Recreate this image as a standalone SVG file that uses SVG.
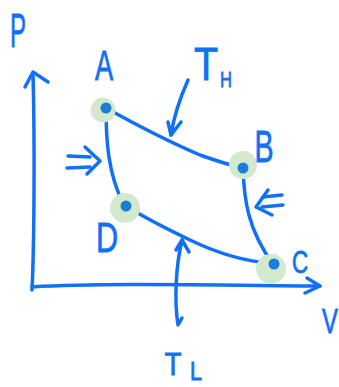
<svg xmlns="http://www.w3.org/2000/svg" width="339" height="387" viewBox="0 0 339 387">
<style>
.s{fill:none;stroke:#1170f5;stroke-width:3.5;stroke-linecap:round;stroke-linejoin:round}
.halo{fill:#d3e9cd}
.dot{fill:#1b7ed6}
.t{font-family:"Liberation Sans","DejaVu Sans",sans-serif;fill:#1170f5;stroke:#1170f5;stroke-width:0.8;text-anchor:middle}
</style>
<rect width="339" height="387" fill="#ffffff"/>
<g id="axes">
<path class="s" d="M32,290 C34,250 35,150 33,73"/>
<path class="s" d="M25,87 L33,72 L48,82"/>
<path class="s" d="M32,287 C100,283 200,285 320,286"/>
<path class="s" d="M307,278 L320,286 L305,293"/>
<text class="t" transform="translate(18,47) scale(0.5,1)" font-size="48">P</text>
<text class="t" transform="translate(330,333) scale(0.68,1)" font-size="35">V</text>
</g>
<g id="connectors">
<path class="s" d="M106,108 Q160,138 200,155 Q225,164 243,168"/>
<path class="s" d="M243,168 C244,200 248,230 273,264"/>
<path class="s" d="M273,263 C245,262 215,252 190,240 S145,218 126,206"/>
<path class="s" d="M106,108 C106,140 108,175 124,205"/>
</g>
<g id="node-A">
<circle class="halo" cx="103" cy="110" r="12.5"/>
<circle class="dot" cx="106" cy="108" r="5.5"/>
<text class="t" transform="translate(104,80) scale(0.65,1)" font-size="42">A</text>
</g>
<g id="node-B">
<circle class="halo" cx="243" cy="165" r="14"/>
<circle class="dot" cx="243" cy="168" r="5.5"/>
<text class="t" transform="translate(264,162) scale(0.65,1)" font-size="44">B</text>
</g>
<g id="node-C">
<circle class="halo" cx="271" cy="269" r="15"/>
<circle class="dot" cx="274" cy="264" r="5.5"/>
<text class="t" transform="translate(300,273) scale(0.7,1)" font-size="32">C</text>
</g>
<g id="node-D">
<circle class="halo" cx="125" cy="208" r="15"/>
<circle class="dot" cx="126" cy="206" r="5.5"/>
<text class="t" transform="translate(107,252) scale(0.73,1)" font-size="42">D</text>
</g>
<g id="label-TH">
<path class="s" d="M188,80 C180,98 174,115 171,135"/>
<path class="s" d="M168,122 L171,135 L181,122"/>
<text class="t" transform="translate(206,80) scale(0.84,1)" font-size="47">T</text>
<text class="t" transform="translate(226,87) scale(0.75,1)" font-size="22">H</text>
</g>
<g id="label-TL">
<path class="s" d="M182,240 C176,265 174,300 178,325 L182,318"/>
<path class="s" d="M176,250 L182,240 L189,252"/>
<text class="t" transform="translate(173,375) scale(0.87,1)" font-size="32">T</text>
<text class="t" transform="translate(196,380) scale(0.86,1)" font-size="25">L</text>
</g>
<g id="heat-in">
<path class="s" d="M68,156 L90,157 M67,168 L90,167"/>
<path class="s" d="M85,147 L100,161 L87,174"/>
</g>
<g id="heat-out">
<path class="s" d="M263,197 L282,195 M262,207 L283,205"/>
<path class="s" d="M268,190 L256,207 L272,215"/>
</g>
</svg>
